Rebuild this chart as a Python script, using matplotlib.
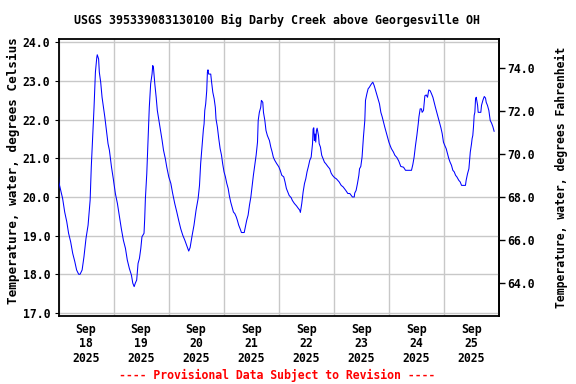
import numpy as np
import pandas as pd
import matplotlib
matplotlib.use("Agg")
import matplotlib.pyplot as plt
import matplotlib.dates as mdates
from matplotlib.ticker import MultipleLocator, FormatStrFormatter

# readings: hours after 2025-09-18 00:00 and water temperature (deg C)
hours = [
    0.0, 0.1, 0.95, 1.8, 2.7, 3.6, 4.4, 5.3, 6.2, 7.1, 7.9, 8.8, 9.4, 10.3, 11.1, 12.0,
    12.9, 13.8, 14.3, 14.9, 15.5, 16.1, 16.7, 16.9, 17.5, 17.8, 18.4, 19.0, 19.6, 20.2,
    21.0, 21.6, 22.2, 23.1, 23.9, 24.8, 25.7, 26.6, 27.4, 28.3, 29.2, 30.0, 30.9, 31.8,
    32.4, 33.0, 33.5, 34.1, 34.7, 35.3, 35.9, 36.4, 37.3, 37.6, 37.9, 38.5, 39.1, 39.6,
    40.2, 40.8, 41.1, 41.4, 42.0, 42.6, 43.1, 43.7, 44.3, 45.2, 45.8, 46.6, 47.2, 48.1,
    49.0, 49.8, 50.7, 51.6, 52.4, 53.3, 54.2, 55.1, 55.9, 56.8, 57.4, 58.3, 59.1, 60.0,
    60.9, 61.5, 62.0, 62.6, 63.2, 63.5, 63.8, 64.2, 64.65, 64.95, 65.2, 65.5, 66.4, 66.7,
    67.3, 67.9, 68.4, 68.7, 69.3, 69.9, 70.5, 71.1, 71.6, 72.2, 72.8, 73.4, 74.0, 74.5,
    75.1, 75.7, 76.3, 76.9, 77.5, 78.0, 78.6, 79.2, 79.8, 81.0, 81.5, 82.1, 82.7, 83.3,
    83.9, 84.4, 85.0, 85.6, 86.2, 86.8, 87.1, 87.6, 88.2, 88.5, 89.1, 89.4, 90.0, 90.5,
    91.1, 92.0, 92.6, 93.2, 93.7, 94.3, 95.2, 96.1, 96.7, 97.4, 98.25, 98.8, 99.4, 100.0,
    100.6, 101.5, 102.0, 102.9, 103.8, 104.65, 105.2, 105.5, 106.1, 106.7, 107.3, 107.85,
    108.4, 109.0, 109.6, 110.2, 110.8, 111.05, 111.35, 111.6, 111.9, 112.2, 112.5, 112.8,
    113.4, 113.7, 114.25, 114.8, 115.4, 116.0, 116.6, 117.45, 118.3, 118.9, 119.5, 120.4,
    121.2, 122.4, 123.3, 124.15, 125.3, 126.2, 127.05, 128.2, 129.0, 129.2, 129.8, 130.4,
    131.0, 131.3, 131.85, 132.4, 133.0, 133.6, 133.9, 134.5, 135.05, 135.6, 136.2, 136.8,
    137.1, 137.7, 138.25, 138.8, 139.4, 140.0, 140.6, 141.2, 141.75, 142.3, 142.9, 143.5,
    144.1, 144.65, 145.2, 146.1, 146.7, 147.6, 148.4, 149.3, 150.5, 151.35, 153.96, 154.55,
    155.1, 155.7, 156.3, 156.9, 157.2, 157.75, 158.3, 158.6, 159.2, 159.8, 160.4, 160.95,
    161.5, 162.1, 162.7, 163.3, 163.85, 164.4, 165.0, 165.6, 166.2, 166.8, 167.35, 167.9,
    168.5, 169.1, 169.7, 170.25, 170.8, 171.4, 172.0, 172.6, 173.2, 173.75, 174.6, 175.2,
    175.8, 177.5, 177.8, 178.4, 179.0, 179.3, 179.6, 180.15, 180.4, 180.7, 181.0, 181.3,
    181.6, 181.9, 182.2, 182.8, 183.05, 184.2, 184.5, 185.1, 185.7, 186.25, 186.55, 187.1,
    187.7, 188.3, 188.9, 189.45, 190.0,
]
temp_c = [
    20.55, 20.39, 20.17, 19.96, 19.61, 19.36, 19.06, 18.84, 18.54, 18.33, 18.11, 18.0, 18.0, 18.11, 18.45, 18.93,
    19.27, 19.92, 20.78, 21.55, 22.32, 23.23, 23.61, 23.68, 23.57, 23.23, 22.97, 22.58, 22.32, 22.07,
    21.68, 21.38, 21.21, 20.78, 20.47, 20.09, 19.83, 19.49, 19.18, 18.88, 18.67, 18.37, 18.15, 17.98,
    17.77, 17.68, 17.77, 17.85, 18.28, 18.41, 18.67, 18.97, 19.06, 19.44, 19.96, 20.6, 21.55, 22.32,
    22.93, 23.18, 23.4, 23.36, 22.93, 22.58, 22.24, 22.02, 21.81, 21.46, 21.21, 20.99, 20.78, 20.52,
    20.35, 20.09, 19.83, 19.61, 19.4, 19.18, 19.01, 18.88, 18.75, 18.6, 18.69, 19.01, 19.27, 19.66,
    19.96, 20.3, 20.86, 21.29, 21.75, 21.89, 22.24, 22.41, 22.75, 23.23, 23.29, 23.18, 23.18, 23.01,
    22.71, 22.54, 22.32, 22.02, 21.81, 21.51, 21.25, 21.08, 20.86, 20.65, 20.52, 20.35, 20.22, 20.04,
    19.87, 19.74, 19.61, 19.57, 19.49, 19.4, 19.27, 19.18, 19.08, 19.08, 19.23, 19.4, 19.53, 19.79,
    20.0, 20.26, 20.56, 20.82, 21.08, 21.42, 21.98, 22.19, 22.32, 22.5, 22.45, 22.19, 21.98, 21.72,
    21.59, 21.46, 21.29, 21.16, 21.03, 20.95, 20.86, 20.78, 20.69, 20.56, 20.52, 20.39, 20.22, 20.13,
    20.04, 19.98, 19.91, 19.83, 19.77, 19.7, 19.66, 19.6, 19.83, 20.13, 20.35, 20.47,
    20.65, 20.79, 20.95, 21.03, 21.38, 21.76, 21.79, 21.46, 21.63, 21.42, 21.72, 21.78,
    21.59, 21.38, 21.29, 21.08, 20.99, 20.9, 20.86, 20.79, 20.73, 20.62, 20.56, 20.5,
    20.47, 20.39, 20.3, 20.26, 20.17, 20.09, 20.09, 20.0, 20.0, 20.1, 20.17, 20.35,
    20.56, 20.73, 20.79, 21.03, 21.55, 21.98, 22.5, 22.67, 22.8, 22.84, 22.9, 22.95,
    22.97, 22.88, 22.77, 22.67, 22.54, 22.41, 22.19, 22.07, 21.94, 21.81, 21.68, 21.55,
    21.42, 21.33, 21.25, 21.16, 21.08, 21.02, 20.93, 20.79, 20.77, 20.69, 20.69, 20.84,
    21.03, 21.33, 21.59, 21.89, 22.07, 22.28, 22.28, 22.19, 22.24, 22.62, 22.64, 22.58,
    22.77, 22.75, 22.67, 22.58, 22.45, 22.32, 22.19, 22.07, 21.94, 21.79, 21.64, 21.42,
    21.33, 21.25, 21.12, 20.99, 20.9, 20.82, 20.69, 20.65, 20.56, 20.52, 20.43, 20.39,
    20.3, 20.3, 20.43, 20.6, 20.73, 20.95, 21.16, 21.38, 21.51, 21.59, 21.81, 22.11,
    22.19, 22.54, 22.58, 22.37, 22.19, 22.19, 22.37, 22.5, 22.6, 22.56, 22.45, 22.37,
    22.24, 21.98, 21.91, 21.82, 21.7,
]

start = pd.Timestamp("2025-09-18 00:00")
end = pd.Timestamp("2025-09-26 00:00")
times = start + pd.to_timedelta(hours, unit="h")

title = "USGS 395339083130100 Big Darby Creek above Georgesville OH"
footer = "---- Provisional Data Subject to Revision ----"
ylabel_c = "Temperature, water, degrees Celsius"
ylabel_f = "Temperature, water, degrees Fahrenheit"

plt.rcParams['font.family'] = 'DejaVu Sans Mono'
plt.rcParams['font.weight'] = 'bold'
fs = 8.3

fig = plt.figure(figsize=(5.76, 3.84), dpi=100)
ax = fig.add_axes([58.5 / 576, 1 - 316 / 384, 440.2 / 576, 276.7 / 384])

ax.plot(times, temp_c, color='#0000ff', linewidth=0.75, zorder=3)

ax.set_xlim(start, end)
ax.set_ylim(16.92, 24.08)

ax.yaxis.set_major_locator(MultipleLocator(1.0))
ax.yaxis.set_major_formatter(FormatStrFormatter('%.1f'))
ax.xaxis.set_major_locator(mdates.HourLocator(byhour=12))
ax.xaxis.set_major_formatter(mdates.DateFormatter('%b\n%d\n%Y'))
ax.xaxis.set_minor_locator(mdates.DayLocator())

ax.grid(True, which='major', axis='y', color='#c8c8c8', linewidth=1.0)
ax.grid(True, which='minor', axis='x', color='#c8c8c8', linewidth=1.0)
ax.set_axisbelow(True)

ax.tick_params(axis='x', which='both', length=0, pad=5, labelsize=fs)
ax.tick_params(axis='y', which='major', direction='out', length=3, pad=3, labelsize=fs)
for lbl in ax.get_xticklabels():
    lbl.set_linespacing(1.15)
for sp in ax.spines.values():
    sp.set_linewidth(1.3)

c2f = lambda c: c * 1.8 + 32
f2c = lambda f: (f - 32) / 1.8
sec = ax.secondary_yaxis('right', functions=(c2f, f2c))
sec.set_yticks([64, 66, 68, 70, 72, 74])
sec.yaxis.set_major_formatter(FormatStrFormatter('%.1f'))
sec.tick_params(direction='out', length=4.5, width=1, pad=1.5, labelsize=fs)
sec.spines['right'].set_linewidth(1.3)

fig.text(277 / 576, 1 - 20 / 384, title, ha='center', va='center', fontsize=8.4)
fig.text(13 / 576, 1 - 171 / 384, ylabel_c, rotation=90, ha='center', va='center', fontsize=9.1)
fig.text(561 / 576, 0.537, ylabel_f, rotation=90, ha='center', va='center', fontsize=fs)
fig.text(277 / 576, 1 - 375 / 384, footer, ha='center', va='center', fontsize=fs, color='#ff0000')

fig.savefig('out.png', dpi=100)
